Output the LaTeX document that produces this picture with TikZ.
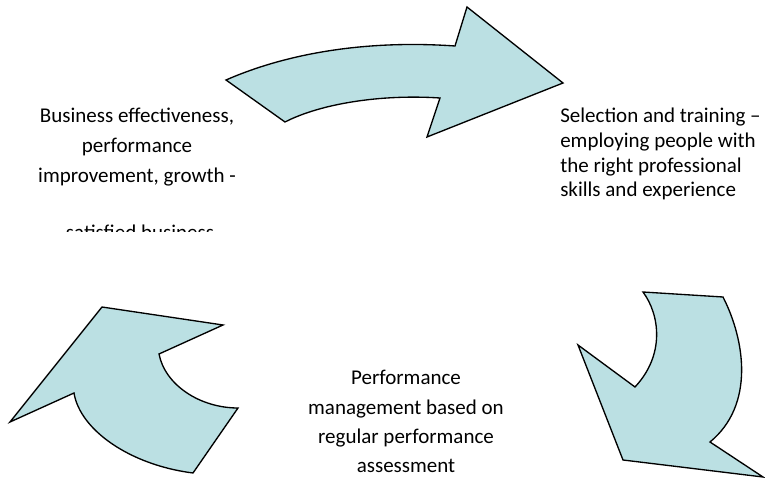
\documentclass[tikz,border=0pt]{standalone}
\usepackage{fontspec}
\setmainfont{Carlito}
\definecolor{arrowfill}{RGB}{187,224,227}
\begin{document}
\begin{tikzpicture}[x=0.75pt,y=-0.75pt,
  arrowshape/.style={fill=arrowfill, draw=black, line width=1pt, line join=miter},
  lbl/.style={font=\fontsize{15.75}{22.5}\selectfont, inner sep=0pt},
  lblb/.style={font=\fontsize{15.75}{22}\selectfont, inner sep=0pt},
  lblr/.style={font=\fontsize{15.75}{18.5}\selectfont, inner sep=0pt}]
\useasboundingbox (0,0) rectangle (765,484);
% top arrow
\draw[arrowshape] (226,80) .. controls (290,52) and (370,40) .. (455,46)
  -- (467,7) -- (563,83) -- (427,137) -- (440,98)
  .. controls (380,94) and (320,104) .. (285,122) -- cycle;
% right arrow
\draw[arrowshape] (643,292) -- (723,297)
  .. controls (745,340) and (755,405) .. (710,442)
  -- (763,477) -- (623,460) -- (578,345) -- (635,387)
  .. controls (665,355) and (660,315) .. (643,292) -- cycle;
% left arrow
\draw[arrowshape] (102,307) -- (223,325) -- (159,354)
  .. controls (165,385) and (200,408) .. (238,408)
  -- (193,473)
  .. controls (130,465) and (80,430) .. (74,393)
  -- (10,422) -- cycle;
% texts (anchor base = baseline of the last line)
\node[lbl, align=center, anchor=base] (biz) at (137,183)
  {Business effectiveness,\\performance\\improvement, growth -};
\begin{scope}
  \clip (0,200) rectangle (300,232);
  \node[lbl, anchor=base] (sat) at (140,240) {satisfied business};
\end{scope}
\node[lblr, align=left, anchor=base west] (sel) at (560,197)
  {Selection and training –\\employing people with\\the right professional\\skills and experience};
\node[lblb, align=center, anchor=base] (perf) at (406,473)
  {Performance\\management based on\\regular performance\\assessment};
\end{tikzpicture}
\end{document}
